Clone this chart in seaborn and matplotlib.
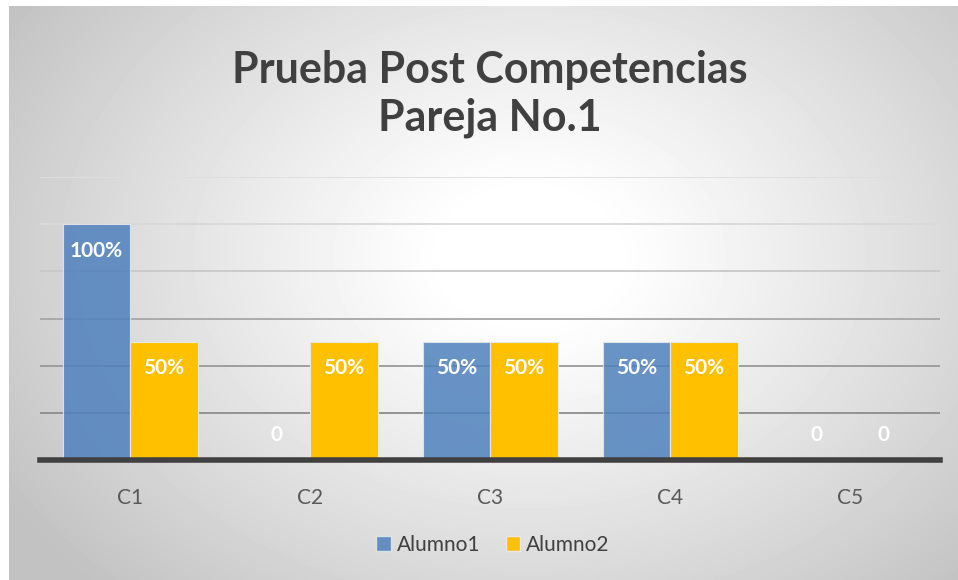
import numpy as np
import pandas as pd
import matplotlib
matplotlib.use("Agg")
import matplotlib.pyplot as plt
import seaborn as sns

categorias = ["C1", "C2", "C3", "C4", "C5"]
alumno1 = [1.0, 0.0, 0.5, 0.5, 0.0]
alumno2 = [0.5, 0.5, 0.5, 0.5, 0.0]
series = ["Alumno1", "Alumno2"]
titulo = "Prueba Post Competencias\nPareja No.1"

df = pd.DataFrame({
    "cat": categorias * 2,
    "valor": alumno1 + alumno2,
    "serie": [series[0]] * 5 + [series[1]] * 5,
})

sns.set_style("white")
plt.rcParams["font.family"] = ["Lato", "DejaVu Sans"]

fig = plt.figure(figsize=(9.58, 5.8), dpi=100)
fig.patch.set_facecolor("white")

# radial gray background like the Excel chart area
W, H = 958, 580
bg = fig.add_axes([9 / W, 0, 1 - 9 / W, 1 - 6 / H], zorder=-5)
yy, xx = np.mgrid[0:574, 0:949]
r = np.sqrt(((xx - 520) / 560.0) ** 2 + ((yy - 250) / 420.0) ** 2)
shade = 1 - 0.24 * np.clip((r - 0.15) / 0.95, 0, 1) ** 1.1
bg.imshow(shade, cmap="gray", vmin=0, vmax=1, aspect="auto", interpolation="bilinear")
bg.axis("off")

ax = fig.add_axes([40 / W, 1 - 460 / H, 900 / W, 283 / H])
ax.patch.set_alpha(0)
sns.barplot(data=df, x="cat", y="valor", hue="serie", order=categorias,
            palette=["#4f81bd", "#ffc000"], saturation=1, width=0.75, gap=0,
            edgecolor="#e8e8e8", linewidth=0.8, ax=ax, zorder=3)
for p in ax.containers[0]:
    p.set_alpha(0.85)

ax.set_xlim(-0.5, 4.5)
ax.set_ylim(0, 1.2)
ax.set_yticks(np.arange(0, 1.21, 0.2))
ax.set_yticklabels([])
ax.tick_params(axis="both", length=0)
ax.set_xlabel("")
ax.set_ylabel("")
ax.yaxis.grid(True, zorder=1)
ax.set_axisbelow(True)
grid_cols = ["#404040", "#8c8c8c", "#999999", "#a6a6a6", "#c8c8c8", "#d9d9d9", "#dedede"]
for gl, c in zip(ax.get_ygridlines(), grid_cols):
    gl.set_color(c)
    gl.set_linewidth(1.3)
for s in ["top", "right", "left"]:
    ax.spines[s].set_visible(False)
ax.spines["bottom"].set_color("#404040")
ax.spines["bottom"].set_linewidth(4)
ax.spines["bottom"].set_zorder(5)
for lab in ax.get_xticklabels():
    lab.set_fontsize(15)
    lab.set_color("#595959")
ax.tick_params(axis="x", pad=20)

for cont in ax.containers:
    for p in cont:
        v = p.get_height()
        txt = "0" if v == 0 else f"{v:.0%}"
        off = 18 if v == 0 else -19
        ax.annotate(txt, (p.get_x() + p.get_width() / 2, v), xytext=(0, off),
                    textcoords="offset points", ha="center", va="center",
                    color="white", fontsize=15, fontweight="bold", zorder=6)

ax.legend_.remove()
handles = [plt.Rectangle((0, 0), 1, 1, facecolor="#4f81bd", alpha=0.85, edgecolor="#e8e8e8"),
           plt.Rectangle((0, 0), 1, 1, facecolor="#ffc000", edgecolor="#e8e8e8")]
leg = fig.legend(handles, series, loc="center", bbox_to_anchor=(493 / W, 1 - 545 / H),
                 ncol=2, frameon=False, fontsize=15, handlelength=0.7, handleheight=0.7,
                 handletextpad=0.3, columnspacing=1.2)
for t in leg.get_texts():
    t.set_color("#404040")

fig.text(490 / W, 1 - 94 / H, titulo, ha="center", va="center", fontsize=31,
         fontweight="bold", color="#404040", linespacing=1.22)

fig.savefig("out.png", dpi=100)
